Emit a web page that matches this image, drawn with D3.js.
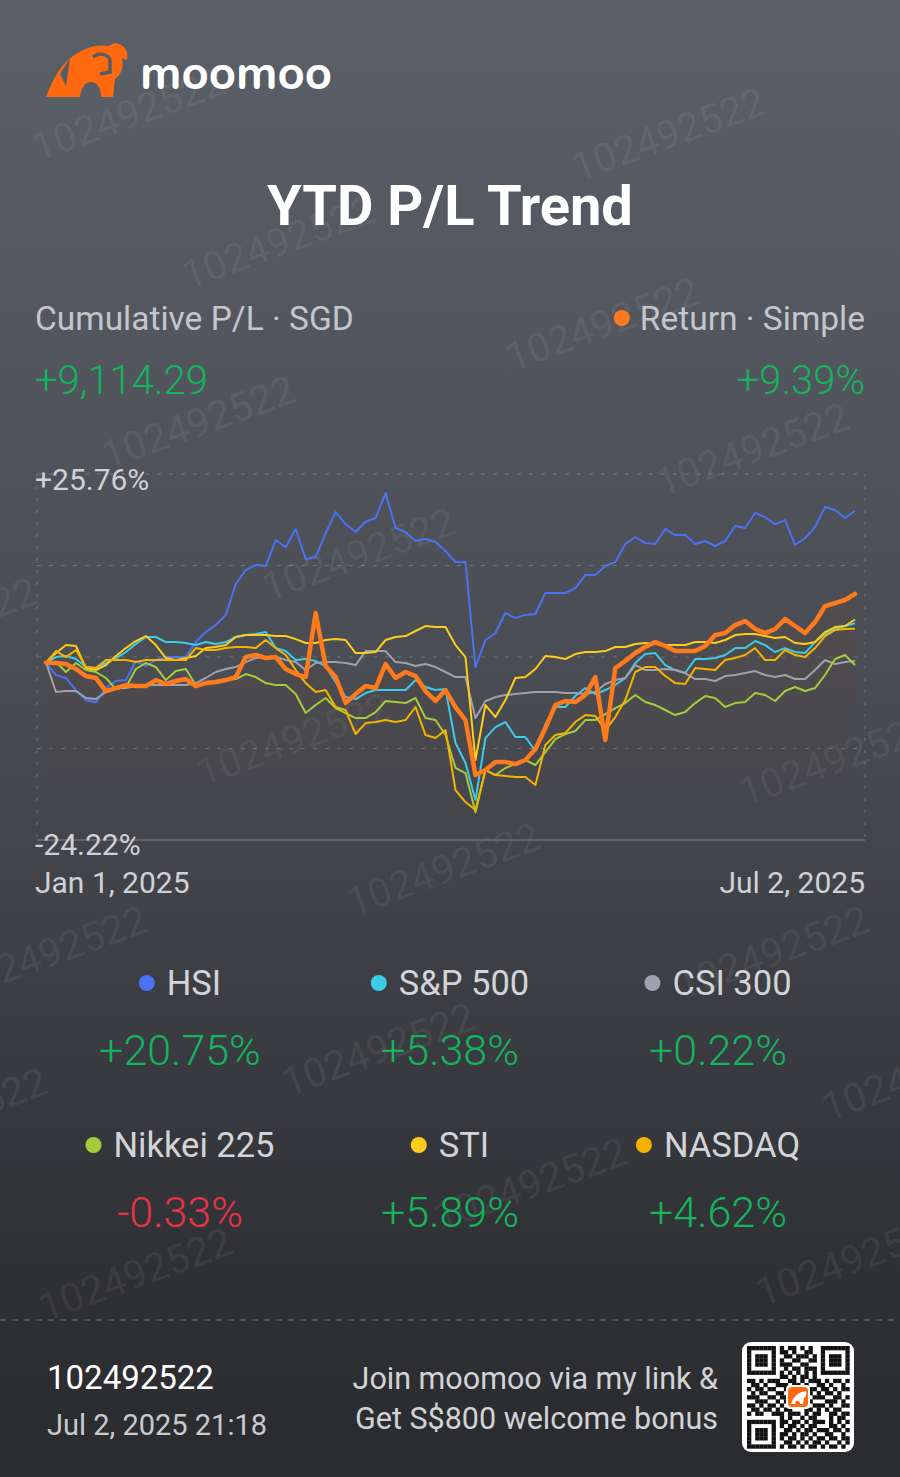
<!DOCTYPE html>
<html><head><meta charset="utf-8">
<script src="https://cdn.jsdelivr.net/npm/d3@7"></script>
<style>html,body{margin:0;padding:0;background:#2b2c30;}svg{display:block;}</style>
</head><body>
<script>
// ---------------- DATA ----------------
const seriesNames = ["HSI", "S&P 500", "CSI 300", "Nikkei 225", "STI", "NASDAQ"];
const seriesColors = ["#4a72f2", "#3ccbe8", "#9fa2ac", "#a5cc3a", "#ffcc1a", "#f5b300"];
const legendValues = [20.75, 5.38, 0.22, -0.33, 5.89, 4.62];

const hsi = [0,-1.69,-2.10,-3.77,-5.13,-5.41,-3.47,-2.51,-2.38,0.22,
-0.46,0.36,0.76,0.76,0.76,2.81,4.18,5.13,6.50,10.73,
12.65,13.33,13.19,16.74,15.79,18.24,14.15,14.42,17.69,20.56,
18.92,17.84,19.20,19.75,23.16,18.38,17.84,16.61,16.88,16.47,
15.24,13.74,13.74,-0.6,3.09,4.04,6.77,6.09,6.50,6.64,
9.51,9.51,9.51,10.19,11.96,11.96,13.19,13.74,16.20,17.15,
16.33,16.20,18.24,17.42,17.42,16.20,16.61,15.93,16.61,18.65,
18.38,20.43,19.88,18.92,19.47,16.06,17.02,18.52,21.25,20.84,
19.75,20.75];
const sp500 = [0,0.76,0.90,0.49,-0.60,-0.74,-0.05,0.63,1.45,2.54,
3.50,3.50,2.81,2.81,2.68,2.40,2.81,2.54,2.81,3.50,
3.77,3.91,4.18,1.99,1.58,0.36,0.49,0.22,-0.46,-2.65,
-4.70,-4.97,-4.15,-3.74,-3.74,-3.74,-3.74,-2.38,-3.33,-3.74,
-3.61,-10.98,-13.71,-18.76,-10.30,-8.80,-8.11,-10.16,-10.16,-12.07,
-8.38,-6.06,-6.06,-4.56,-3.47,-4.29,-3.74,-3.06,-2.10,-0.05,
1.17,1.31,-0.33,-1.01,-1.42,0.49,0.49,0.63,1.04,1.99,
1.99,2.95,2.40,1.45,1.99,1.45,1.31,2.81,3.91,4.59,
5.00,5.38];
const csi300 = [0,-4.01,-3.88,-3.88,-4.83,-4.97,-4.01,-3.47,-3.47,-3.20,
-3.06,-3.06,-3.06,-3.06,-3.06,-2.79,-2.10,-1.28,-0.87,-0.60,
0.08,0.63,0.76,0.76,0.36,0.08,-1.01,-0.05,0.08,0.08,
-0.05,-0.33,1.58,1.58,1.58,0.08,-0.05,-0.46,-0.19,-0.60,
-1.28,-1.97,-1.97,-7.57,-5.24,-4.70,-4.42,-4.29,-4.15,-4.01,
-4.01,-4.01,-4.15,-4.15,-4.29,-4.01,-2.92,-2.38,-2.10,-0.33,
-1.01,-1.01,-0.87,-1.01,-1.42,-2.24,-2.24,-2.51,-1.83,-1.69,
-1.42,-1.15,-1.69,-1.97,-1.69,-2.24,-2.24,-1.01,0.36,-0.19,
0.08,0.22];
const nikkei = [0,0.08,-1.28,-0.05,-1.01,-1.28,-2.10,-3.61,-3.33,-0.87,
-0.05,-0.60,-2.38,-1.15,-0.87,-3.06,-2.92,-2.51,-2.38,-2.24,
-1.56,-1.97,-2.79,-3.06,-3.06,-4.29,-6.88,-5.79,-4.83,-6.20,
-6.88,-7.57,-7.57,-6.75,-5.24,-5.38,-5.52,-4.83,-7.57,-7.84,
-9.89,-14.39,-15.08,-20.43,-14.67,-15.35,-14.39,-13.85,-13.30,-13.98,
-12.21,-10.43,-9.75,-9.34,-7.84,-7.84,-7.02,-6.20,-5.52,-4.42,
-5.38,-5.79,-6.47,-7.16,-6.75,-5.52,-4.56,-4.83,-6.06,-5.52,
-5.38,-4.15,-4.42,-5.24,-3.88,-3.33,-3.88,-3.47,-1.69,0.49,
1.04,-0.33];
const sti = [0,1.31,2.40,2.27,-0.74,-1.01,-0.33,0.90,1.99,2.95,
3.63,2.40,0.63,0.36,0.63,0.90,1.99,2.13,2.40,3.50,
3.77,3.77,3.77,3.63,3.63,3.22,2.68,2.68,3.09,3.22,
3.09,1.31,1.31,1.45,3.09,3.50,3.63,4.32,5.00,4.86,
4.86,2.40,0.76,-13.30,-5.79,-7.43,-5.11,-2.10,-1.97,-0.87,
0.90,0.76,0.49,1.17,1.45,1.45,1.58,2.13,2.13,2.54,
2.68,2.54,2.40,2.40,2.40,2.81,2.81,2.68,3.09,3.77,
3.91,3.91,3.63,3.36,3.50,2.68,2.54,2.81,4.18,4.86,
5.00,5.89];
const nasdaq = [0,1.58,0.76,1.72,-0.60,-0.74,0.36,0.36,0.36,0.08,
0.36,0.36,0.36,0.36,0.36,1.99,1.72,1.72,1.99,2.13,
2.13,1.99,3.09,1.99,1.04,-1.01,-2.79,-4.01,-3.74,-6.06,
-6.47,-9.75,-8.25,-8.11,-7.84,-8.11,-7.84,-6.06,-9.89,-10.30,
-9.21,-17.40,-19.04,-20.13,-14.67,-15.35,-15.49,-15.62,-15.62,-16.71,
-11.25,-9.89,-9.62,-8.11,-7.16,-7.29,-9.21,-7.43,-5.11,-1.28,
-0.60,-0.60,-1.83,-2.79,-2.92,-0.74,-0.87,-1.01,0.36,0.63,
1.04,1.99,0.36,0.36,1.72,1.04,0.76,1.99,3.63,4.45,
4.59,4.62];
const portfolioReturn = [0,-0.05,-0.19,-0.87,-1.83,-2.10,-3.88,-3.47,-3.06,-3.20,
-3.20,-2.38,-2.92,-2.51,-2.24,-3.20,-2.79,-2.65,-2.38,-1.97,
0.76,1.04,0.63,0.76,-0.87,-1.56,-1.97,6.77,-0.46,-1.97,
-5.52,-4.29,-3.20,-3.47,-0.19,-2.10,-1.28,-1.83,-3.88,-5.24,
-3.74,-6.06,-7.84,-15.35,-14.67,-13.58,-13.58,-13.85,-13.30,-11.80,
-8.93,-5.79,-5.24,-5.38,-4.42,-1.97,-10.57,-0.74,0.22,1.31,
2.13,2.81,2.27,1.58,1.58,1.58,2.27,3.77,4.04,5.13,
5.68,4.59,4.04,4.59,5.95,5.00,4.04,5.54,7.73,8.14,
8.55,9.39];
const benchmarkSeries = [hsi, sp500, csi300, nikkei, sti, nasdaq];

const yDomain = [-24.22, 25.76];
const yTickLabels = ["+25.76%", "-24.22%"];
const xTickLabels = ["Jan 1, 2025", "Jul 2, 2025"];
const headerLabel = "Cumulative P/L \u00b7 SGD";
const headerValue = "+9,114.29";
const returnLabel = "Return \u00b7 Simple";
const returnValue = "+9.39%";
const accountId = "102492522";
const timestamp = "Jul 2, 2025 21:18";
const promoLines = ["Join moomoo via my link &", "Get S$800 welcome bonus"];

// ---------------- DRAW ----------------
const W = 900, H = 1477;
const FONT = "Roboto, 'Helvetica Neue', Arial, sans-serif";
const GREEN = "#14b45e", RED = "#e8334b", ORANGE = "#ff7a1c";

const svg = d3.select("body").append("svg").attr("width", W).attr("height", H);
const defs = svg.append("defs");

const bg = defs.append("linearGradient").attr("id", "bg").attr("x1", 0).attr("y1", 0).attr("x2", 0).attr("y2", 1);
[[0, "#5b5f67"], [0.45, "#4a4d54"], [0.86, "#303135"], [1, "#2a2b2f"]].forEach(s =>
  bg.append("stop").attr("offset", s[0]).attr("stop-color", s[1]));
svg.append("rect").attr("width", W).attr("height", H).attr("fill", "url(#bg)");

// watermarks
const watermarkSpots = [[38,162],[578,182],[188,290],[512,372],[108,470],[662,497],[268,602],[-150,672],
  [203,787],[745,807],[353,917],[-40,1000],[682,1000],[288,1097],[828,1122],[-140,1162],[440,1232],[45,1322],[762,1307]];
svg.append("g").selectAll("text").data(watermarkSpots).join("text")
  .attr("transform", d => `translate(${d[0]},${d[1]}) rotate(-20)`)
  .attr("font-family", FONT).attr("font-size", 40).attr("fill", "rgba(255,255,255,0.08)")
  .text(accountId);

// logo
const logo = svg.append("g");
logo.append("path").attr("fill", "#ff6a10")
  .attr("d", "M46,97 C52,80 62,62 76,54 C86,47 98,44 108,46 L115,43 C124,44 129,51 127,60 L122,58 C124,67 121,75 115,79 L113,97 L101,97 C101,88 97,82 91,82 C85,82 81,88 80,97 Z");
logo.append("path").attr("fill", "none").attr("stroke", "#585c63").attr("stroke-width", 3.5)
  .attr("d", "M93,57 C99,52 108,54 110,60 L110,72 L100,74");
logo.append("path").attr("fill", "#585c63").attr("d", "M60,74 L70,58 L66,86 Z");
logo.append("text").attr("x", 140).attr("y", 89).attr("font-family", "'Nunito', Roboto, sans-serif")
  .attr("font-weight", 700).attr("font-size", 48).attr("fill", "#ffffff")
  .attr("textLength", 192).attr("lengthAdjust", "spacingAndGlyphs").text("moomoo");

// title
svg.append("text").attr("x", 450).attr("y", 225).attr("text-anchor", "middle")
  .attr("font-family", FONT).attr("font-weight", 700).attr("font-size", 56).attr("fill", "#ffffff")
  .text("YTD P/L Trend");

// header stats
svg.append("text").attr("x", 35).attr("y", 330).attr("font-family", FONT).attr("font-size", 33.5)
  .attr("fill", "#c4c6cb").text(headerLabel);
svg.append("text").attr("x", 35).attr("y", 394).attr("font-family", FONT).attr("font-weight", 300)
  .attr("font-size", 40).attr("fill", GREEN).text(headerValue);
const retText = svg.append("text").attr("x", 865).attr("y", 330).attr("text-anchor", "end")
  .attr("font-family", FONT).attr("font-size", 33.5).attr("fill", "#c4c6cb").text(returnLabel);
const rw = retText.node().getComputedTextLength();
svg.append("circle").attr("cx", 865 - rw - 18).attr("cy", 318).attr("r", 8).attr("fill", ORANGE);
svg.append("text").attr("x", 865).attr("y", 394).attr("text-anchor", "end").attr("font-family", FONT)
  .attr("font-weight", 300).attr("font-size", 40).attr("fill", GREEN).text(returnValue);

// chart
const plotLeft = 37, plotRight = 865, plotTop = 474, plotBottom = 840;
const n = portfolioReturn.length;
const x = d3.scaleLinear().domain([0, n - 1]).range([46, 855]);
const y = d3.scaleLinear().domain(yDomain).range([plotBottom, plotTop]);

const grid = svg.append("g");
const gridVals = d3.range(0, 4).map(i => yDomain[1] - i * (yDomain[1] - yDomain[0]) / 4);
grid.selectAll("line.h").data(gridVals).join("line")
  .attr("x1", plotLeft).attr("x2", plotRight).attr("y1", d => y(d)).attr("y2", d => y(d))
  .attr("stroke", "rgba(255,255,255,0.22)").attr("stroke-width", 1.2).attr("stroke-dasharray", "4,8");
grid.selectAll("line.v").data([plotLeft, plotRight]).join("line")
  .attr("x1", d => d).attr("x2", d => d).attr("y1", plotTop).attr("y2", plotBottom)
  .attr("stroke", "rgba(255,255,255,0.2)").attr("stroke-width", 1.2).attr("stroke-dasharray", "3,9");
grid.append("line").attr("x1", plotLeft).attr("x2", plotRight).attr("y1", y(yDomain[0])).attr("y2", y(yDomain[0]))
  .attr("stroke", "#6c6f76").attr("stroke-width", 1.5);

const ag = defs.append("linearGradient").attr("id", "areaG").attr("gradientUnits", "userSpaceOnUse")
  .attr("x1", 0).attr("y1", plotTop).attr("x2", 0).attr("y2", plotBottom);
ag.append("stop").attr("offset", 0).attr("stop-color", "#6b4a36").attr("stop-opacity", 0.45);
ag.append("stop").attr("offset", 1).attr("stop-color", "#4a4040").attr("stop-opacity", 0.05);

const area = d3.area().x((d, i) => x(i)).y0(y(yDomain[0])).y1(d => y(d));
svg.append("path").datum(portfolioReturn).attr("d", area).attr("fill", "url(#areaG)");

const line = d3.line().x((d, i) => x(i)).y(d => y(d));
svg.append("g").selectAll("path").data(benchmarkSeries).join("path")
  .attr("d", d => line(d)).attr("fill", "none")
  .attr("stroke", (d, i) => seriesColors[i]).attr("stroke-width", 2)
  .attr("stroke-linejoin", "round");
svg.append("path").datum(portfolioReturn).attr("d", line).attr("fill", "none")
  .attr("stroke", ORANGE).attr("stroke-width", 4.5).attr("stroke-linejoin", "round").attr("stroke-linecap", "round");

// axis labels
const axisFont = 30;
svg.append("text").attr("x", 35).attr("y", y(yDomain[1]) + 16).attr("font-family", FONT).attr("font-size", axisFont)
  .attr("fill", "#d0d1d5").text(yTickLabels[0]);
svg.append("text").attr("x", 35).attr("y", y(yDomain[0]) + 15).attr("font-family", FONT).attr("font-size", axisFont)
  .attr("fill", "#d0d1d5").text(yTickLabels[1]);
svg.append("text").attr("x", 35).attr("y", 893).attr("font-family", FONT).attr("font-size", axisFont)
  .attr("fill", "#d0d1d5").text(xTickLabels[0]);
svg.append("text").attr("x", 865).attr("y", 893).attr("text-anchor", "end").attr("font-family", FONT).attr("font-size", axisFont)
  .attr("fill", "#d0d1d5").text(xTickLabels[1]);

// legend
const colCenters = [180, 450, 718];
const rowLabelY = [995, 1157], rowValueY = [1065, 1227];
seriesNames.forEach((name, i) => {
  const cx = colCenters[i % 3], r = Math.floor(i / 3);
  const g = svg.append("g");
  const t = g.append("text").attr("y", rowLabelY[r]).attr("font-family", FONT).attr("font-size", 34.5)
    .attr("fill", "#d3d4d8").text(name);
  const tw = t.node().getComputedTextLength();
  const total = 16 + 12 + tw;
  const left = cx - total / 2;
  g.append("circle").attr("cx", left + 8).attr("cy", rowLabelY[r] - 12).attr("r", 8).attr("fill", seriesColors[i]);
  t.attr("x", left + 28);
  const v = legendValues[i];
  svg.append("text").attr("x", cx).attr("y", rowValueY[r]).attr("text-anchor", "middle")
    .attr("font-family", FONT).attr("font-weight", 300).attr("font-size", 43)
    .attr("fill", v >= 0 ? GREEN : RED).text((v >= 0 ? "+" : "") + v.toFixed(2) + "%");
});

// footer
svg.append("line").attr("x1", 0).attr("x2", W).attr("y1", 1320).attr("y2", 1320)
  .attr("stroke", "#5c5e63").attr("stroke-width", 1.5).attr("stroke-dasharray", "6,6");
svg.append("text").attr("x", 47).attr("y", 1389).attr("font-family", FONT).attr("font-size", 33)
  .attr("fill", "#ffffff").text(accountId);
svg.append("text").attr("x", 47).attr("y", 1435).attr("font-family", FONT).attr("font-size", 29)
  .attr("fill", "#c9cace").text(timestamp);
promoLines.forEach((s, i) => svg.append("text").attr("x", 718).attr("y", 1389 + i * 40)
  .attr("text-anchor", "end").attr("font-family", FONT).attr("font-size", 30.5).attr("fill", "#d2d3d7").text(s));

// QR code
const qrRows = [
"1111111010110101001111111",
"1000001011010011001000001",
"1011101001101110101011101",
"1011101010011001101011101",
"1011101011100110001011101",
"1000001001011011101000001",
"1111111010101010101111111",
"0000000011010110100000000",
"1101011100110101110101101",
"0110100111011010011010010",
"1011011001100111101101011",
"0101100110111001010110100",
"1110011011010110111001101",
"0011100101101011000111010",
"1101011010011100111010011",
"0110110101100011010101100",
"1011001110111010110011011",
"0000000010100101100010110",
"1111111011011010111010101",
"1000001010110101100011010",
"1011101001101011011101101",
"1011101011010110100110010",
"1011101010110101011011011",
"1000001001101010110100101",
"1111111010110101101011010"];
const qr = svg.append("g");
qr.append("rect").attr("x", 742).attr("y", 1342).attr("width", 112).attr("height", 110).attr("rx", 9).attr("fill", "#ffffff");
const cells = [];
qrRows.forEach((row, r) => row.split("").forEach((c, k) => { if (c === "1") cells.push([k, r]); }));
const m = 4.1;
qr.selectAll("rect.m").data(cells).join("rect").attr("x", d => 747 + d[0] * m).attr("y", d => 1346 + d[1] * m)
  .attr("width", m + 0.2).attr("height", m + 0.2).attr("fill", "#111111");
qr.append("rect").attr("x", 786).attr("y", 1385).attr("width", 24).attr("height", 24).attr("rx", 4).attr("fill", "#ffffff");
qr.append("rect").attr("x", 788).attr("y", 1387).attr("width", 20).attr("height", 20).attr("rx", 4).attr("fill", "#ff6a10");
qr.append("path").attr("fill", "#ffffff").attr("d", "M791,1404 C793,1398 797,1393 802,1392 L806,1391 C807,1394 806,1397 804,1398 L803,1404 L800,1404 C800,1401 798,1400 796,1401 L795,1404 Z");
</script>
</body></html>
